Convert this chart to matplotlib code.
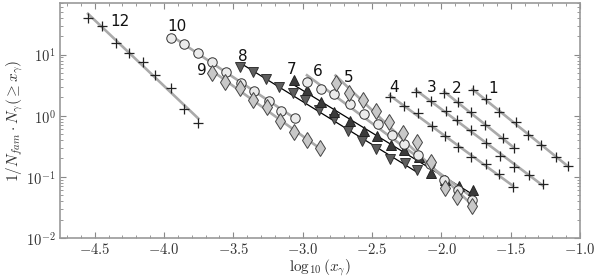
import matplotlib
matplotlib.use("Agg")
import matplotlib.pyplot as plt
import numpy as np
from matplotlib.ticker import FuncFormatter, MultipleLocator, LogLocator

plt.rcParams["mathtext.fontset"] = "cm"

# series: log10(x_gamma) positions and 1/N_fam * N(>= x)
x1 = [-1.775, -1.679, -1.583, -1.462, -1.378, -1.282, -1.173, -1.085]
y1 = [2.67, 1.88, 1.15, 0.777, 0.488, 0.335, 0.210, 0.151]
x2 = [-1.980, -1.879, -1.783, -1.686, -1.559, -1.479]
y2 = [2.36, 1.68, 1.15, 0.712, 0.431, 0.295]
x3 = [-2.185, -2.077, -1.968, -1.884, -1.783, -1.679, -1.576, -1.475, -1.366, -1.269]
y3 = [2.45, 1.72, 1.22, 0.86, 0.589, 0.365, 0.221, 0.144, 0.108, 0.077]
x4 = [-2.373, -2.272, -2.171, -2.069, -1.976, -1.883, -1.789, -1.681, -1.587, -1.484]
y4 = [2.05, 1.46, 1.12, 0.686, 0.470, 0.310, 0.209, 0.163, 0.112, 0.0686]
x5 = [-2.763, -2.669, -2.568, -2.474, -2.380, -2.279, -2.178, -2.077, -1.976, -1.889, -1.780]
y5 = [3.47, 2.38, 1.83, 1.21, 0.797, 0.526, 0.368, 0.176, 0.066, 0.047, 0.0335]
x6 = [-2.969, -2.871, -2.774, -2.662, -2.561, -2.460, -2.358, -2.272, -2.170, -2.080, -1.983, -1.880, -1.780]
y6 = [3.54, 2.77, 2.29, 1.57, 1.08, 0.726, 0.488, 0.348, 0.229, 0.16, 0.089, 0.06, 0.042]
x7 = [-3.066, -2.972, -2.871, -2.777, -2.662, -2.561, -2.461, -2.366, -2.272, -2.163, -2.077, -1.976, -1.874, -1.773]
y7 = [3.79, 2.60, 1.65, 1.14, 0.807, 0.568, 0.470, 0.328, 0.277, 0.215, 0.115, 0.089, 0.071, 0.060]
x8 = [-3.449, -3.356, -3.262, -3.168, -3.070, -2.980, -2.879, -2.777, -2.673, -2.572, -2.474, -2.373, -2.264, -2.178]
y8 = [6.36, 5.26, 4.04, 2.99, 2.38, 1.80, 1.25, 0.877, 0.568, 0.389, 0.282, 0.197, 0.170, 0.130]
x9 = [-3.652, -3.558, -3.453, -3.359, -3.258, -3.164, -3.066, -2.969, -2.875]
y9 = [5.07, 3.61, 2.88, 1.83, 1.38, 0.83, 0.547, 0.40, 0.30]
x10 = [-3.948, -3.854, -3.753, -3.655, -3.551, -3.446, -3.348, -3.243, -3.153, -3.059]
y10 = [19.0, 15.1, 10.8, 7.48, 5.13, 3.47, 2.57, 1.76, 1.21, 0.93]
x12 = [-4.548, -4.447, -4.345, -4.251, -4.150, -4.064, -3.948, -3.854, -3.753]
y12 = [40.4, 29.9, 15.7, 10.8, 7.68, 4.70, 2.88, 1.30, 0.77]

labels = ["1", "2", "3", "4", "5", "6", "7", "8", "9", "10", "12"]
label_pos = [(-1.63, 2.77), (-1.89, 2.77), (-2.07, 2.88), (-2.34, 2.88), (-2.67, 4.2),
             (-2.89, 5.26), (-3.08, 5.68), (-3.435, 9.27), (-3.73, 5.47), (-3.91, 28.8),
             (-4.32, 34.8)]

GRAY_LINE = "#aaaaaa"
plus = dict(marker="+", ms=7, mew=0.9, color="#222222", ls="none")
circ = dict(marker="o", ms=6.8, mfc="#ebebeb", mec="#333333", mew=0.7, ls="none")
diam = dict(marker="d", ms=8, mfc="#c8c8c8", mec="#444444", mew=0.7, ls="none")
tri_up = dict(marker="^", ms=7, mfc="#3a3a3a", mec="#222222", mew=0.7, ls="none")
tri_dn = dict(marker="v", ms=7, mfc="#5e5e5e", mec="#333333", mew=0.7, ls="none")

series = [
    (x12, y12, plus, GRAY_LINE, 1.9),
    (x10, y10, circ, GRAY_LINE, 1.9),
    (x9, y9, diam, GRAY_LINE, 1.9),
    (x8, y8, tri_dn, "black", 0.9),
    (x7, y7, tri_up, "black", 0.9),
    (x6, y6, circ, GRAY_LINE, 1.9),
    (x5, y5, diam, GRAY_LINE, 1.9),
    (x4, y4, plus, GRAY_LINE, 1.9),
    (x3, y3, plus, GRAY_LINE, 1.9),
    (x2, y2, plus, GRAY_LINE, 1.9),
    (x1, y1, plus, GRAY_LINE, 1.9),
]

fig = plt.figure(figsize=(5.98, 2.78), dpi=100)
ax = fig.add_axes([0.1003, 0.144, 0.8697, 0.845])
ax.set_yscale("log")

for xs, ys, style, lc, lw in series:
    xs = np.array(xs)
    k, b = np.polyfit(xs, np.log10(ys), 1)
    xx = np.array([xs.min(), xs.max()])
    ax.plot(xx, 10 ** (k * xx + b), color=lc, lw=lw, zorder=2)
for xs, ys, style, lc, lw in series:
    ax.plot(xs, ys, zorder=3, **style)

for txt, (tx, ty) in zip(labels, label_pos):
    ax.text(tx, ty, txt, fontsize=11, ha="center", va="center", color="#111111")

ax.set_xlim(-4.75, -1.0)
ax.set_ylim(0.01, 70)
ax.xaxis.set_major_locator(MultipleLocator(0.5))
ax.xaxis.set_minor_locator(MultipleLocator(0.1))
ax.xaxis.set_major_formatter(FuncFormatter(lambda v, p: r"$%.1f$" % v))
ax.yaxis.set_major_locator(LogLocator(base=10, numticks=10))
ax.yaxis.set_minor_locator(LogLocator(base=10, subs=np.arange(2, 10), numticks=10))
ax.yaxis.set_major_formatter(FuncFormatter(lambda v, p: r"$10^{%d}$" % round(np.log10(v))))

for s in ax.spines.values():
    s.set_color("#999999")
    s.set_linewidth(1.2)
ax.tick_params(which="both", direction="in", top=True, right=True, colors="#888888",
               labelcolor="#333333", labelsize=10.5)
ax.tick_params(which="major", length=4, width=0.8, pad=3)
ax.tick_params(which="minor", length=2, width=0.6)

ax.set_xlabel(r"$\log_{10}(x_\gamma)$", fontsize=11, color="#333333", labelpad=0)
ax.set_ylabel(r"$1/N_{fam}\cdot N_\gamma(\geq x_\gamma)$", fontsize=11, color="#333333", labelpad=1)

fig.savefig("out.png", dpi=100, facecolor="white")
